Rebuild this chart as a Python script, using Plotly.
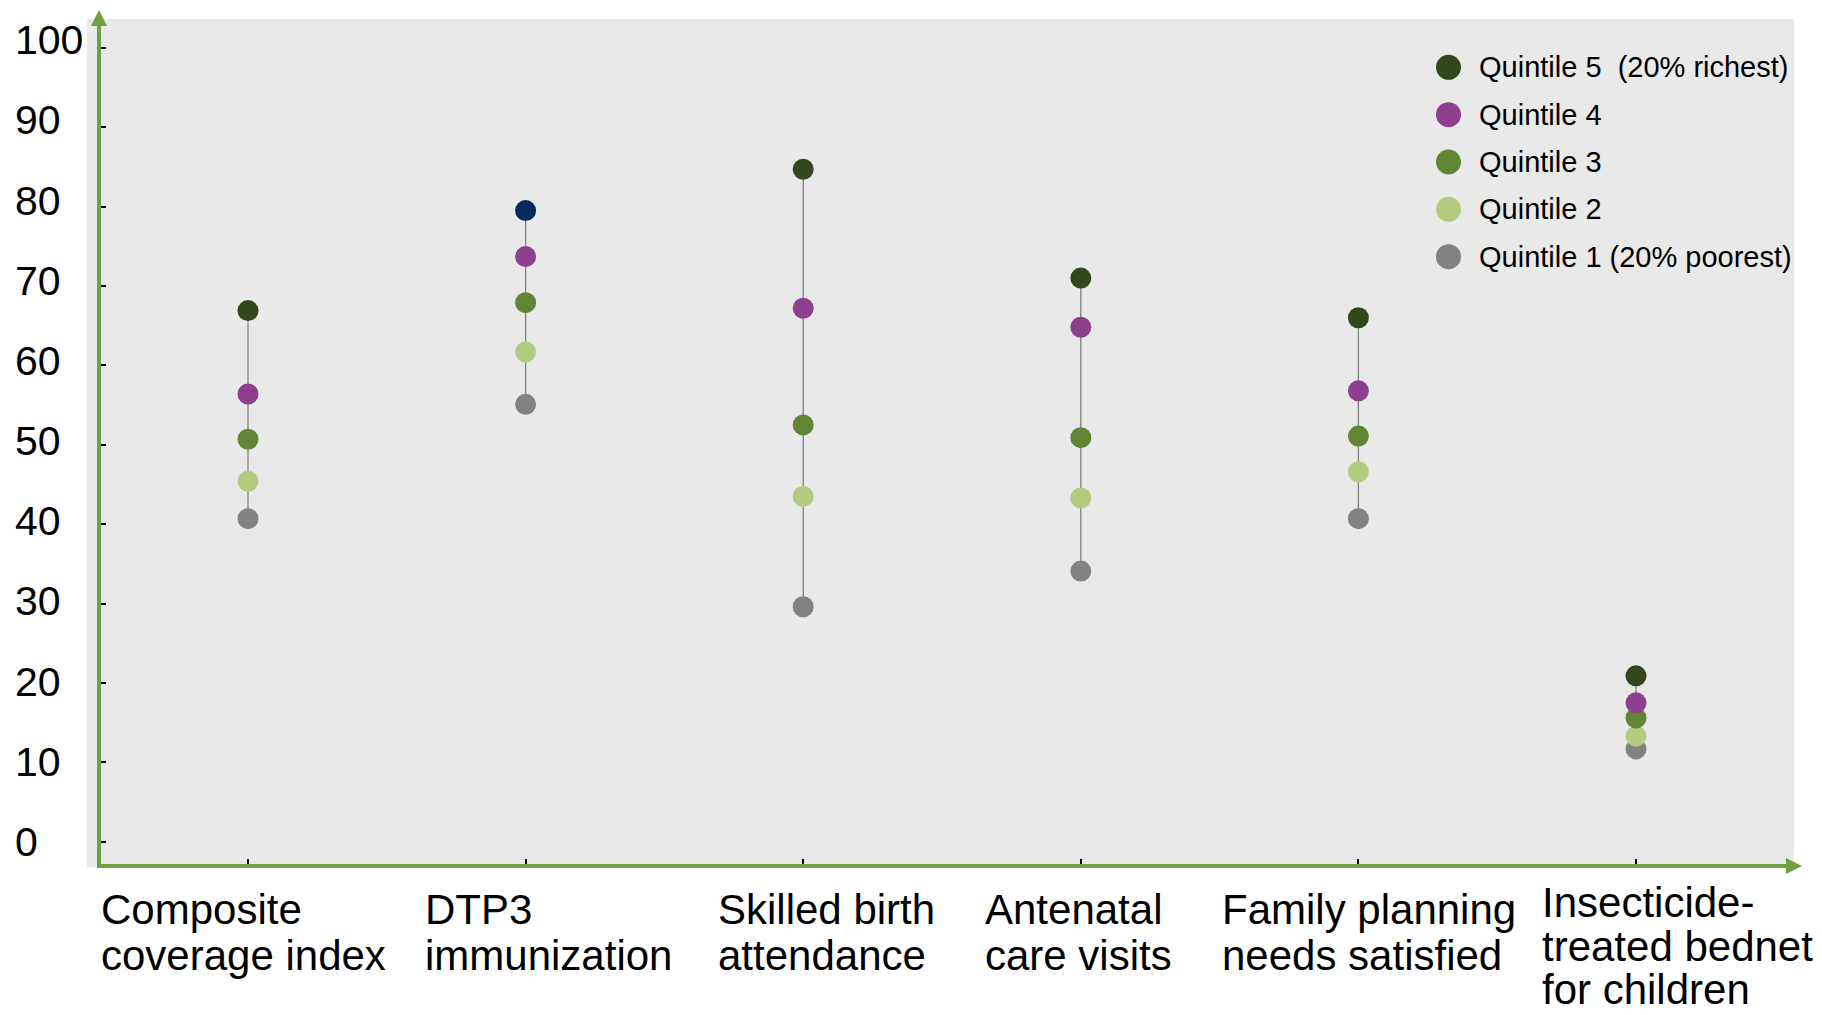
import plotly.graph_objects as go

# ---------------- data ----------------
category_lines = [
    ["Composite", "coverage index"],
    ["DTP3", "immunization"],
    ["Skilled birth", "attendance"],
    ["Antenatal", "care visits"],
    ["Family planning", "needs satisfied"],
    ["Insecticide-", "treated bednet", "for children"],
]
q5 = [66.9, 79.5, 84.7, 71.0, 66.0, 20.9]
q4 = [56.4, 73.7, 67.2, 64.8, 56.8, 17.5]
q3 = [50.7, 67.9, 52.5, 50.9, 51.1, 15.6]
q2 = [45.4, 61.7, 43.5, 43.3, 46.6, 13.3]
q1 = [40.7, 55.1, 29.6, 34.1, 40.7, 11.7]
series_names = ["Quintile 5 \u00a0(20% richest)", "Quintile 4", "Quintile 3",
                "Quintile 2", "Quintile 1 (20% poorest)"]
y_ticks = [0, 10, 20, 30, 40, 50, 60, 70, 80, 90, 100]

# ---------------- styles ----------------
series_values = [q5, q4, q3, q2, q1]
series_colors = ["#33471C", "#8E3F8E", "#5F8535", "#B2CB7E", "#828282"]
q5_point_colors = ["#33471C", "#022B5B", "#33471C", "#33471C", "#33471C", "#33471C"]
AXIS_GREEN = "#70A040"
BG_GRAY = "#E9E9E9"
FONT = "Liberation Sans, Arial, sans-serif"

W, H = 1822, 1015
L, R, T, B = 99, 1794, 19, 866          # plot area in pixels
X_FIRST_PX, X_STEP_PX = 248, 277.6       # category 0 position, spacing
Y0_PX, Y_UNIT_PX = 841.8, 7.94           # pixel of y=0, pixels per unit


def px_x(p):
    return (p - L) / (R - L)


def px_y(p):
    return (B - p) / (B - T)


x_range = [(L - X_FIRST_PX) / X_STEP_PX, (R - X_FIRST_PX) / X_STEP_PX]
y_range = [(Y0_PX - B) / Y_UNIT_PX, (Y0_PX - T) / Y_UNIT_PX]

xs = list(range(len(category_lines)))

fig = go.Figure()

# connector lines (max to min per category)
cx, cy = [], []
for i in xs:
    vals = [s[i] for s in series_values]
    cx += [i, i, None]
    cy += [max(vals), min(vals), None]
fig.add_trace(go.Scatter(x=cx, y=cy, mode="lines",
                         line=dict(color="#808080", width=1.3),
                         hoverinfo="skip", showlegend=False))

# markers, poorest first so richer quintiles sit on top
for k in reversed(range(5)):
    color = q5_point_colors if k == 0 else series_colors[k]
    fig.add_trace(go.Scatter(x=xs, y=series_values[k], mode="markers",
                             name=series_names[k],
                             marker=dict(size=21, color=color, line=dict(width=0)),
                             showlegend=False))

shapes = []
annotations = []

# gray background
shapes.append(dict(type="rect", xref="paper", yref="paper",
                   x0=px_x(87), x1=px_x(1794), y0=px_y(867), y1=px_y(19),
                   fillcolor=BG_GRAY, line=dict(width=0), layer="below"))
# y axis with arrow
shapes.append(dict(type="line", xref="paper", yref="paper",
                   x0=px_x(99), x1=px_x(99), y0=px_y(868), y1=px_y(24),
                   line=dict(color=AXIS_GREEN, width=4)))
shapes.append(dict(type="path", xref="paper", yref="paper",
                   path="M %f,%f L %f,%f L %f,%f Z" % (px_x(99), px_y(10), px_x(91), px_y(26), px_x(107), px_y(26)),
                   fillcolor=AXIS_GREEN, line=dict(width=0)))
# x axis with arrow
shapes.append(dict(type="line", xref="paper", yref="paper",
                   x0=px_x(97), x1=px_x(1789), y0=px_y(866), y1=px_y(866),
                   line=dict(color=AXIS_GREEN, width=4)))
shapes.append(dict(type="path", xref="paper", yref="paper",
                   path="M %f,%f L %f,%f L %f,%f Z" % (px_x(1802), px_y(866), px_x(1786), px_y(858), px_x(1786), px_y(874)),
                   fillcolor=AXIS_GREEN, line=dict(width=0)))

# y tick labels (left aligned)
for v in y_ticks:
    annotations.append(dict(x=px_x(13), xref="paper", xanchor="left",
                            y=v, yref="y", yanchor="middle", yshift=0.075 * v,
                            text=str(v), showarrow=False,
                            font=dict(family=FONT, size=41, color="black")))

# x category labels (left aligned lines)
label_xshift = [-149, -103, -87, -98, -138, -96]
label_top = [884, 884, 884, 884, 884, 877]
label_step = [45.5, 45.5, 45.5, 45.5, 45.5, 43.5]
for i, lines in enumerate(category_lines):
    for j, line in enumerate(lines):
        annotations.append(dict(x=i, xref="x", xanchor="left", xshift=label_xshift[i],
                                y=px_y(label_top[i] + j * label_step[i]), yref="paper", yanchor="top",
                                text=line, showarrow=False,
                                font=dict(family=FONT, size=42, color="black")))

# custom legend
LEG_X, LEG_Y0, LEG_DY, LEG_D = 1448.5, 67.3, 47.35, 25
for k, name in enumerate(series_names):
    cyp = LEG_Y0 + k * LEG_DY
    shapes.append(dict(type="circle", xref="paper", yref="paper",
                       x0=px_x(LEG_X - LEG_D / 2), x1=px_x(LEG_X + LEG_D / 2),
                       y0=px_y(cyp + LEG_D / 2), y1=px_y(cyp - LEG_D / 2),
                       fillcolor=series_colors[k], line=dict(width=0)))
    annotations.append(dict(x=px_x(1477), xref="paper", xanchor="left",
                            y=px_y(cyp), yref="paper", yanchor="middle",
                            text=name, showarrow=False,
                            font=dict(family=FONT, size=29, color="black")))

fig.update_layout(
    width=W, height=H, autosize=False,
    margin=dict(l=L, r=W - R, t=T, b=H - B, pad=0),
    paper_bgcolor="white", plot_bgcolor="rgba(0,0,0,0)",
    showlegend=False,
    shapes=shapes, annotations=annotations,
    xaxis=dict(range=x_range, tickvals=xs, ticks="inside", ticklen=7, tickwidth=2,
               tickcolor="black", showticklabels=False, showgrid=False,
               zeroline=False, showline=False, fixedrange=True),
    yaxis=dict(range=y_range, tickvals=y_ticks, ticks="inside", ticklen=7, tickwidth=2,
               tickcolor="black", showticklabels=False, showgrid=False,
               zeroline=False, showline=False, fixedrange=True),
    font=dict(family=FONT),
)

fig.write_html("out.html", config={"displayModeBar": False},
               post_script="document.body.style.margin='0';")
